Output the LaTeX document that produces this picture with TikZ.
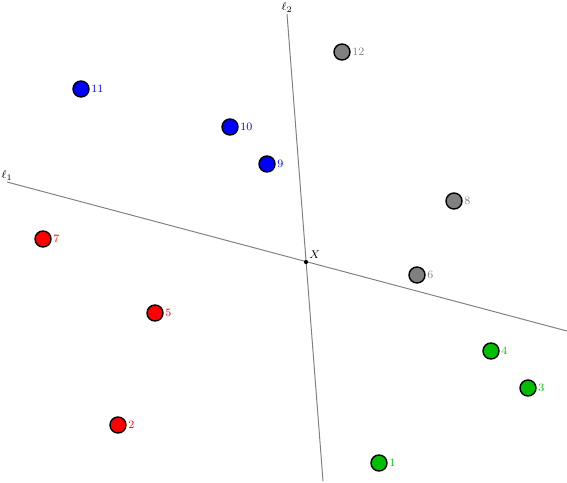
\documentclass[tikz,border=0pt]{standalone}
\usepackage{amssymb}

\definecolor{ptred}{RGB}{255,0,0}
\definecolor{ptblue}{RGB}{0,0,255}
\definecolor{ptgreen}{RGB}{0,190,0}
\definecolor{ptgray}{RGB}{128,128,128}

\tikzset{
    pt/.style={circle, draw=black, line width=1pt, minimum size=0.4cm, inner sep=0pt, fill=#1,
        label={[text=#1, font=\footnotesize, inner sep=1pt, label distance=0pt]right:\pointlabel}},
    axis/.style={draw=ptgray, line width=0.7pt}
}
\newcommand{\pointlabel}{}
\newcommand{\ptnode}[4]{\renewcommand{\pointlabel}{#4}\node (p#4) [pt=#3] at (#1, #2) {};}

\begin{document}
\begin{tikzpicture}[x=0.25mm, y=-0.25mm]
    \useasboundingbox (0, 0) rectangle (567, 482);

    % Lines
    \coordinate (l1a) at (7, 182);
    \coordinate (l1b) at (567, 331);
    \coordinate (l2a) at (287, 14);
    \coordinate (l2b) at (323, 481);
    \draw[axis] (l1a) -- (l1b);
    \draw[axis] (l2a) -- (l2b);
    \node (l1) [anchor=south, font=\footnotesize, inner sep=1pt] at (l1a) {\(\ell_1\)};
    \node (l2) [anchor=south, font=\footnotesize, inner sep=1pt] at (l2a) {\(\ell_2\)};

    % Intersection
    \node (x) [circle, fill=black, inner sep=0pt, minimum size=3pt] at (306, 262) {};
    \node (xl) [anchor=south west, font=\footnotesize, inner sep=1pt] at (x.north east) {\(X\)};

    % Points
    \ptnode{342}{52}{ptgray}{12}
    \ptnode{81}{89}{ptblue}{11}
    \ptnode{230}{127}{ptblue}{10}
    \ptnode{267}{164}{ptblue}{9}
    \ptnode{454}{201}{ptgray}{8}
    \ptnode{43}{239}{ptred}{7}
    \ptnode{417}{275}{ptgray}{6}
    \ptnode{155}{313}{ptred}{5}
    \ptnode{491}{351}{ptgreen}{4}
    \ptnode{528}{388}{ptgreen}{3}
    \ptnode{118}{425}{ptred}{2}
    \ptnode{379}{463}{ptgreen}{1}
\end{tikzpicture}
\end{document}
